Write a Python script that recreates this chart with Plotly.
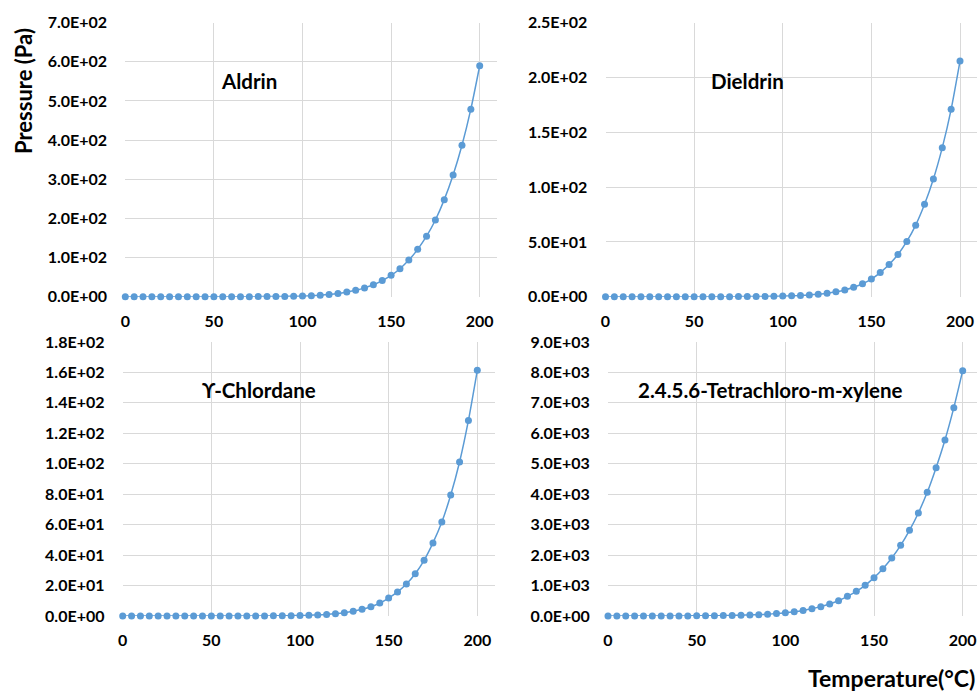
import plotly.graph_objects as go

temps = [0, 5, 10, 15, 20, 25, 30, 35, 40, 45, 50, 55, 60, 65, 70, 75, 80, 85, 90, 95,
         100, 105, 110, 115, 120, 125, 130, 135, 140, 145, 150, 155, 160, 165, 170, 175,
         180, 185, 190, 195, 200]

aldrin = [0.00004, 0.00008, 0.00016, 0.0003, 0.0006, 0.0011, 0.002, 0.0035, 0.006, 0.011,
          0.018, 0.03, 0.05, 0.08, 0.13, 0.21, 0.33, 0.5, 0.77, 1.15,
          1.7, 2.5, 3.7, 5.4, 7.9, 11.8, 16.5, 22.5, 30.5, 41.2, 54.5, 71.5, 93.5, 121,
          154.5, 196, 248, 311, 387, 479, 590]

dieldrin = [0.00002, 0.00004, 0.00007, 0.00014, 0.00025, 0.00045, 0.0008, 0.0014, 0.0024, 0.004,
            0.0068, 0.011, 0.018, 0.029, 0.046, 0.072, 0.11, 0.17, 0.25, 0.37,
            0.54, 0.78, 1.1, 1.6, 2.3, 3.2, 4.5, 6.2, 8.6, 11.8, 16.1, 22.0, 29.4, 38.5,
            50.4, 65.3, 84.3, 107.4, 136, 171, 215]

chlordane = [0.000018, 0.000033, 0.00006, 0.0001, 0.00018, 0.00031, 0.00053, 0.0009, 0.0015, 0.0024,
             0.0039, 0.0063, 0.01, 0.016, 0.025, 0.039, 0.06, 0.092, 0.14, 0.21,
             0.32, 0.47, 0.7, 1.02, 1.5, 2.15, 3.1, 4.4, 6.1, 8.5, 11.8, 15.8, 21.0, 27.8,
             36.6, 48.0, 61.7, 79.5, 101.2, 128.5, 161.4]

tcmx = [0.1, 0.16, 0.24, 0.36, 0.54, 0.8, 1.17, 1.7, 2.45, 3.5,
        4.9, 6.9, 9.6, 13.3, 18.2, 24.8, 33.5, 45, 60, 80,
        106, 140, 183, 238, 307, 394, 504, 646, 810, 1007, 1259, 1555, 1905, 2321,
        2814, 3384, 4062, 4873, 5782, 6844, 8059]

names = ["Aldrin", "Dieldrin", "\u03d2-Chlordane", "2.4.5.6-Tetrachloro-m-xylene"]
series = [aldrin, dieldrin, chlordane, tcmx]

y_tickvals = [
    [0, 100, 200, 300, 400, 500, 600, 700],
    [0, 50, 100, 150, 200, 250],
    [0, 20, 40, 60, 80, 100, 120, 140, 160, 180],
    [0, 1000, 2000, 3000, 4000, 5000, 6000, 7000, 8000, 9000],
]
y_ticktext = [
    ["0.0E+00", "1.0E+02", "2.0E+02", "3.0E+02", "4.0E+02", "5.0E+02", "6.0E+02", "7.0E+02"],
    ["0.0E+00", "5.0E+01", "1.0E+02", "1.5E+02", "2.0E+02", "2.5E+02"],
    ["0.0E+00", "2.0E+01", "4.0E+01", "6.0E+01", "8.0E+01", "1.0E+02", "1.2E+02", "1.4E+02",
     "1.6E+02", "1.8E+02"],
    ["0.0E+00", "1.0E+03", "2.0E+03", "3.0E+03", "4.0E+03", "5.0E+03", "6.0E+03", "7.0E+03",
     "8.0E+03", "9.0E+03"],
]
x_tickvals = [0, 50, 100, 150, 200]

W, H = 977, 691
# panel plot areas in pixels: (left, right, top, bottom, x-at-200)
panels = [
    (125.3, 496.7, 22.7, 296.7, 479.7),
    (605.5, 977.0, 22.7, 296.7, 960.0),
    (122.7, 495.0, 342.0, 616.0, 477.3),
    (608.0, 977.0, 342.0, 616.0, 962.7),
]
title_pos = [(249, 80.7), (747, 80.7), (258.7, 390.3), (769.5, 390.3)]

BLUE = "#5B9BD5"
GRID = "#D9D9D9"
FONT = "Lato, Carlito, Calibri, 'Open Sans', sans-serif"

fig = go.Figure()
layout = dict(
    width=W, height=H,
    margin=dict(l=0, r=0, t=0, b=0, autoexpand=False),
    paper_bgcolor="white", plot_bgcolor="white",
    showlegend=False,
    font=dict(family=FONT, color="black"),
)
annotations = []
for i, (vals, name) in enumerate(zip(series, names)):
    k = "" if i == 0 else str(i + 1)
    fig.add_trace(go.Scatter(
        x=temps, y=vals, xaxis="x" + k, yaxis="y" + k,
        mode="lines+markers", line=dict(color=BLUE, width=1.5, shape="spline", smoothing=0.6),
        marker=dict(color=BLUE, size=7), cliponaxis=False,
    ))
    left, right, top, bottom, x200 = panels[i]
    xmax = (right - left) / ((x200 - left) / 200.0)
    ymax = y_tickvals[i][-1]
    layout["xaxis" + k] = dict(
        domain=[left / W, right / W], anchor="y" + k, range=[0, xmax],
        tickvals=x_tickvals, ticktext=[str(v) for v in x_tickvals],
        showgrid=True, gridcolor=GRID, gridwidth=1, zeroline=False,
        showline=False, ticks="outside", ticklen=10, tickcolor="rgba(0,0,0,0)",
        tickfont=dict(size=16, family=FONT, color="black", weight="bold"),
        fixedrange=True, automargin=False,
    )
    layout["yaxis" + k] = dict(
        domain=[1 - bottom / H, 1 - top / H], anchor="x" + k, range=[0, ymax],
        tickvals=y_tickvals[i], ticktext=y_ticktext[i],
        showgrid=True, gridcolor=GRID, gridwidth=1, zeroline=False,
        showline=False, ticks="outside", ticklen=14, tickcolor="rgba(0,0,0,0)",
        tickfont=dict(size=16, family=FONT, color="black", weight="bold"),
        fixedrange=True, automargin=False,
    )
    tx, ty = title_pos[i]
    annotations.append(dict(
        x=tx / W, y=1 - ty / H, xref="paper", yref="paper", text="<b>%s</b>" % name,
        showarrow=False, xanchor="center", yanchor="middle",
        font=dict(size=20.5, family=FONT, color="black"),
    ))

annotations.append(dict(
    x=23 / W, y=1 - 91 / H, xref="paper", yref="paper", text="<b>Pressure (Pa)</b>",
    showarrow=False, textangle=-90, xanchor="center", yanchor="middle",
    font=dict(size=22, family=FONT, color="black"),
))
annotations.append(dict(
    x=977 / W, y=1 - 678 / H, xref="paper", yref="paper", text="<b>Temperature(°C)</b>",
    showarrow=False, xanchor="right", yanchor="middle",
    font=dict(size=23, family=FONT, color="black"),
))
layout["annotations"] = annotations
fig.update_layout(**layout)
fig.write_html(
    "out.html",
    config={"displayModeBar": False},
    post_script="document.body.style.margin='0';document.body.style.overflow='hidden';",
)
